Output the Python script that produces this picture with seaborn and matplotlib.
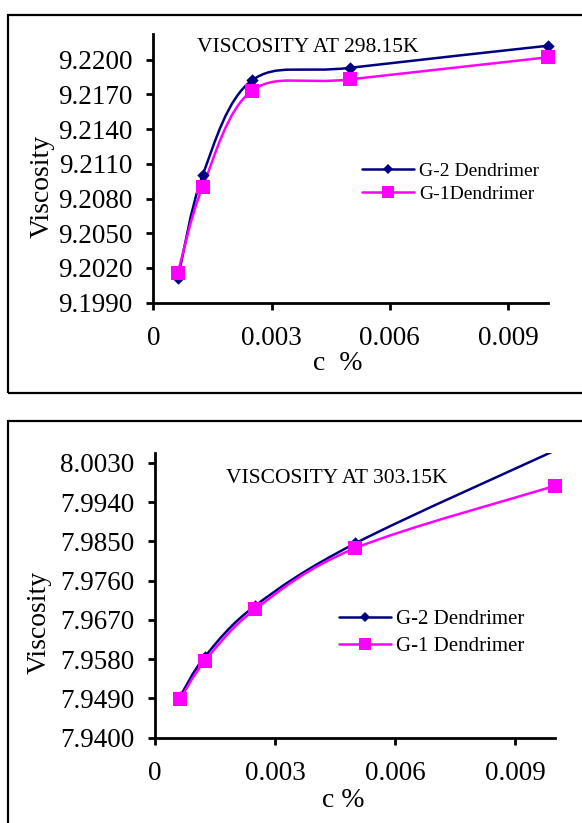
import numpy as np
import pandas as pd
import matplotlib
matplotlib.use("Agg")
import matplotlib.pyplot as plt
import seaborn as sns
from matplotlib.path import Path
from matplotlib.patches import PathPatch, Rectangle
from matplotlib.lines import Line2D

# ---------------- data ----------------
conc = [0.000625, 0.00125, 0.0025, 0.005, 0.01]
g2_298 = [9.2011, 9.2100, 9.2182, 9.2193, 9.2212]
g1_298 = [9.2016, 9.2090, 9.2173, 9.2183, 9.2202]
g2_303 = [7.9494, 7.9586, 7.9702, 7.9845, 8.0058]
g1_303 = [7.9488, 7.9576, 7.9694, 7.9834, 7.9977]

x_ticks = [0, 0.003, 0.006, 0.009]
x_tick_labels = ["0", "0.003", "0.006", "0.009"]
y_ticks_298 = [9.1990, 9.2020, 9.2050, 9.2080, 9.2110, 9.2140, 9.2170, 9.2200]
y_tick_labels_298 = ["9.1990", "9.2020", "9.2050", "9.2080", "9.2110", "9.2140", "9.2170", "9.2200"]
y_ticks_303 = [7.9400, 7.9490, 7.9580, 7.9670, 7.9760, 7.9850, 7.9940, 8.0030]
y_tick_labels_303 = ["7.9400", "7.9490", "7.9580", "7.9670", "7.9760", "7.9850", "7.9940", "8.0030"]

titles = ["VISCOSITY AT 298.15K", "VISCOSITY AT 303.15K"]
legend_298 = ["G-2 Dendrimer", "G-1Dendrimer"]
legend_303 = ["G-2 Dendrimer", "G-1 Dendrimer"]
xlabels = ["c  %", "c %"]
ylabel = "Viscosity"

NAVY = "#000080"
MAGENTA = "#FF00FF"

sns.set_style("white")
plt.rcParams["font.family"] = ["Liberation Serif", "DejaVu Serif"]
plt.rcParams["text.color"] = "black"


def smooth_path(xs, ys):
    P = np.column_stack([xs, ys]).astype(float)
    n = len(P)
    verts = [P[0]]
    codes = [Path.MOVETO]
    for i in range(n - 1):
        p0 = P[max(i - 1, 0)]
        p1 = P[i]
        p2 = P[i + 1]
        p3 = P[min(i + 2, n - 1)]
        c1 = p1 + (p2 - p0) / 6.0
        c2 = p2 - (p3 - p1) / 6.0
        verts += [c1, c2, p2]
        codes += [Path.CURVE4] * 3
    return Path(verts, codes)


W, H = 582, 823
fig = plt.figure(figsize=(W / 100, H / 100), dpi=100)


def px_axes(left, right, top, bottom):
    return fig.add_axes([left / W, (H - bottom) / H, (right - left) / W, (bottom - top) / H])


def draw_panel(ax, g2, g1, ylim, yticks, yticklabels, title, title_xy, leg_labels, leg_xy,
               leg_fs, leg_hl, leg_ls, xlabel, xlabel_xy, ylabel_xy, sq_size):
    ax.set_xlim(0, 0.01)
    ax.set_ylim(*ylim)
    clip = Rectangle((-0.05, -0.05), 1.1, 1.05, transform=ax.transAxes)
    for vals, color, lw in [(g2, NAVY, 1.8), (g1, MAGENTA, 1.8)]:
        patch = PathPatch(smooth_path(conc, vals), facecolor="none", edgecolor=color,
                          lw=lw, zorder=2)
        ax.add_patch(patch)
        patch.set_clip_path(clip)
    df2 = pd.DataFrame({"c": conc, "v": g2})
    df1 = pd.DataFrame({"c": conc, "v": g1})
    df2 = df2[df2["v"] <= ylim[1]]
    df1 = df1[df1["v"] <= ylim[1]]
    sns.scatterplot(data=df2, x="c", y="v", marker="D", s=40, color=NAVY,
                    edgecolor=NAVY, linewidth=0, ax=ax, zorder=3, clip_on=False)
    sns.scatterplot(data=df1, x="c", y="v", marker="s", s=sq_size, color=MAGENTA,
                    edgecolor=MAGENTA, linewidth=0, ax=ax, zorder=4, clip_on=False)

    ax.set_xticks(x_ticks)
    ax.set_xticklabels(x_tick_labels)
    ax.set_yticks(yticks)
    ax.set_yticklabels(yticklabels)
    for s in ["top", "right"]:
        ax.spines[s].set_visible(False)
    for s in ["left", "bottom"]:
        ax.spines[s].set_linewidth(2)
        ax.spines[s].set_color("black")
    ax.tick_params(axis="both", which="major", bottom=True, left=True, direction="out",
                   length=5, width=2, color="black", labelsize=19.5, labelcolor="black")
    ax.tick_params(axis="x", pad=11.5)
    ax.tick_params(axis="y", pad=10)
    ax.set_xlabel(xlabel, fontsize=20, color="black", va="center")
    ax.xaxis.set_label_coords(*xlabel_xy)
    ax.set_ylabel(ylabel, fontsize=20, color="black", va="center")
    ax.yaxis.set_label_coords(*ylabel_xy)
    ax.text(title_xy[0], title_xy[1], title, transform=ax.transAxes, ha="center",
            va="baseline", fontsize=15.5, color="black")
    handles = [
        Line2D([], [], color=NAVY, lw=1.8, marker="D", markersize=4.8, markeredgewidth=0),
        Line2D([], [], color=MAGENTA, lw=1.8, marker="s", markersize=8.5, markeredgewidth=0),
    ]
    ax.legend(handles, leg_labels, loc="upper left", bbox_to_anchor=leg_xy, frameon=False,
              fontsize=leg_fs, handlelength=leg_hl, handletextpad=0.25, borderpad=0,
              borderaxespad=0, labelspacing=leg_ls)


# panel 1
ax1 = px_axes(153.3, 547.5, 34.2, 302.7)
draw_panel(ax1, g2_298, g1_298, (9.1990, 9.2222), y_ticks_298, y_tick_labels_298,
           titles[0], (0.3924, 0.9348), legend_298, (0.529, 0.524), 14, 2.7, 0.29,
           xlabels[0], (0.467, -0.228), (-0.283, 0.4346), 88)

# panel 2
ax2 = px_axes(155, 555, 452.7, 737.7)
draw_panel(ax2, g2_303, g1_303, (7.9400, 8.0053), y_ticks_303, y_tick_labels_303,
           titles[1], (0.454, 0.8947), legend_303, (0.46, 0.449), 15, 2.5, 0.35,
           xlabels[1], (0.471, -0.2186), (-0.29, 0.404), 100)

# outer frames
fig.patches.append(Rectangle((8.3 / W, (H - 392.7) / H), (600 - 8.3) / W, (392.7 - 15) / H,
                             transform=fig.transFigure, fill=False, lw=1.6, ec="black"))
fig.patches.append(Rectangle((8.3 / W, (H - 840) / H), (600 - 8.3) / W, (840 - 420.7) / H,
                             transform=fig.transFigure, fill=False, lw=1.6, ec="black"))

fig.savefig("out.png", dpi=100, facecolor="white")
